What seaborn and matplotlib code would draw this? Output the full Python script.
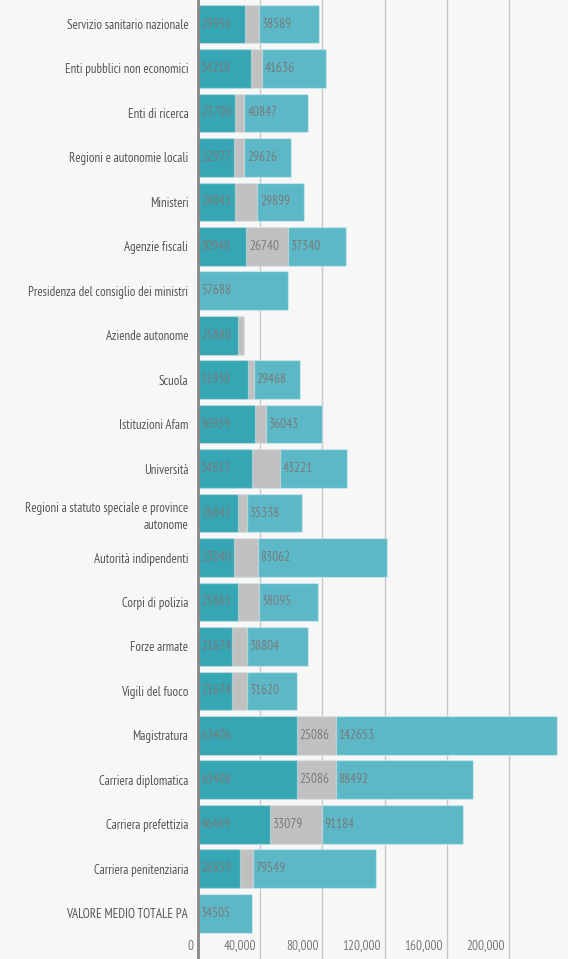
import matplotlib
matplotlib.use("Agg")
import matplotlib.pyplot as plt
import matplotlib.transforms as mtransforms
import numpy as np
import pandas as pd
import seaborn as sns

# ── Data ───────────────────────────────────────────────────────────────────────
categories = [
    "Servizio sanitario nazionale",
    "Enti pubblici non economici",
    "Enti di ricerca",
    "Regioni e autonomie locali",
    "Ministeri",
    "Agenzie fiscali",
    "Presidenza del consiglio dei ministri",
    "Aziende autonome",
    "Scuola",
    "Istituzioni Afam",
    "Università",
    "Regioni a statuto speciale e province\nautonome",
    "Autorità indipendenti",
    "Corpi di polizia",
    "Forze armate",
    "Vigili del fuoco",
    "Magistratura",
    "Carriera diplomatica",
    "Carriera prefettizia",
    "Carriera penitenziaria",
    "VALORE MEDIO TOTALE PA",
]
dark = [29956, 34218, 23700, 22977, 24043, 30948, 0, 25880, 31930, 36959, 34813,
        26042, 23040, 25865, 21674, 21674, 63406, 63406, 46469, 26859, 0]
# grey segments: only some are labelled in the source, the rest are estimated
grey = [9000, 6700, 6200, 6900, 14000, 26740, 0, 3900, 3900, 6900, 17800,
        5600, 15300, 13300, 10100, 10100, 25086, 25086, 33079, 8200, 0]
light = [38589, 41636, 40847, 29626, 29899, 37340, 57688, 0, 29468, 36043, 43221,
         35338, 83062, 38095, 38804, 31620, 142653, 88492, 91184, 79549, 34505]
xticks = [0, 40000, 80000, 120000, 160000, 200000]

df = pd.DataFrame({"cat": categories, "dark": dark, "grey": grey, "light": light})
df["s1"] = df["dark"]
df["s2"] = df["dark"] + df["grey"]
df["s3"] = df["s2"] + df["light"]

C_DARK = "#36a6b4"
C_GREY = "#c0c0c0"
C_LIGHT = "#5cb8c6"
BG = "#f7f7f7"
TXT = "#7a7a7a"

sns.set_style("white")
plt.rcParams["font.family"] = ["PT Sans Narrow", "DejaVu Sans"]

fig = plt.figure(figsize=(5.68, 9.59), dpi=100, facecolor=BG)
ax = fig.add_axes([198 / 568, 0, 370 / 568, 1])
ax.set_facecolor(BG)

# stacked bars, drawn back to front
edge = dict(edgecolor=(1, 1, 1, 0.35), linewidth=1)
for col, c in [("s3", C_LIGHT), ("s2", C_GREY), ("s1", C_DARK)]:
    sns.barplot(data=df, x=col, y="cat", color=c, saturation=1, width=0.87,
                orient="h", ax=ax, zorder=2, **edge)

# value labels at the start of each segment
for i, r in df.iterrows():
    segs = [(0, r["dark"]), (r["s1"], r["grey"]), (r["s2"], r["light"])]
    for k, (start, v) in enumerate(segs):
        if v <= 0:
            continue
        if k == 1 and v < 20000:
            continue
        ax.annotate(f"{v}", xy=(start, i), xytext=(3, 0), textcoords="offset pixels",
                    va="center", ha="left", fontsize=9.5, color=TXT, zorder=3)

ax.set_xlim(0, 238000)
ax.set_ylim(21.03, -0.54)
ax.set_xticks(xticks)
ax.set_xticklabels([f"{t:,}" for t in xticks])
ax.grid(axis="x", color="#c8c8c8", linewidth=1, zorder=0)
ax.grid(axis="y", visible=False)
ax.set_axisbelow(True)
ax.set_xlabel("")
ax.set_ylabel("")

for s in ["top", "right", "bottom"]:
    ax.spines[s].set_visible(False)
ax.spines["left"].set_color("#888888")
ax.spines["left"].set_linewidth(2)
ax.spines["left"].set_zorder(4)

ax.tick_params(axis="x", length=0, pad=-14, labelsize=9.5, labelcolor=TXT)
ax.tick_params(axis="y", length=0, pad=7, labelsize=9.3, labelcolor="#555555")
shift = mtransforms.ScaledTranslation(-4 / 100, 0, fig.dpi_scale_trans)
for lab in ax.get_xticklabels():
    lab.set_ha("right")
    lab.set_transform(lab.get_transform() + shift)
for lab in ax.get_yticklabels():
    lab.set_ha("right")
    lab.set_multialignment("right")
    lab.set_linespacing(1.4)

fig.savefig("out.png", dpi=100, facecolor=BG)
